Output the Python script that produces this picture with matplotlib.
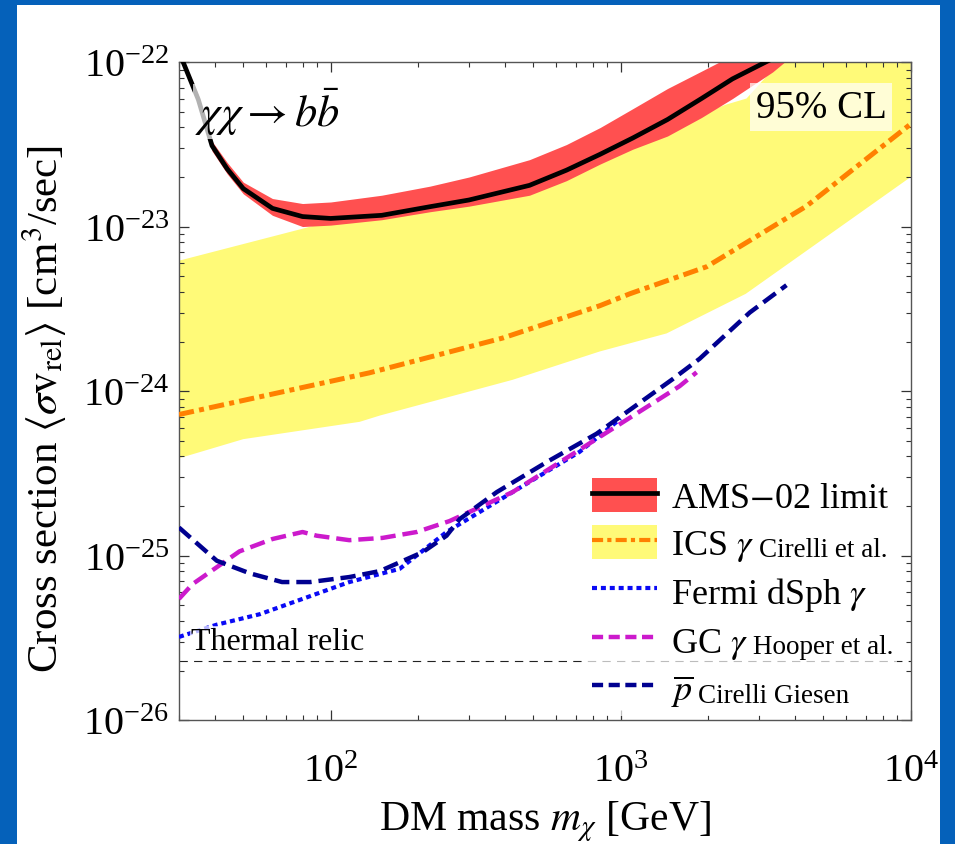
import numpy as np
import matplotlib.pyplot as plt
from matplotlib.patches import Patch, Rectangle
from matplotlib.lines import Line2D

plt.rcParams['font.family'] = ['Liberation Serif', 'DejaVu Serif']
plt.rcParams['mathtext.fontset'] = 'stix'
plt.rcParams['lines.scale_dashes'] = False

# AMS-02 antiproton limit (black) with its uncertainty band (red)
ams_mass = [31, 35, 39, 44, 50, 63, 80, 100, 150, 220, 300, 485, 650, 850, 1100, 1450, 1900,
            2430, 3340, 3800]
ams_limit = [1.00e-22, 5.9e-23, 3.1e-23, 2.24e-23, 1.70e-23, 1.29e-23, 1.15e-23, 1.12e-23,
             1.17e-23, 1.32e-23, 1.45e-23, 1.78e-23, 2.2e-23, 2.75e-23, 3.45e-23, 4.47e-23,
             6.0e-23, 7.9e-23, 1.05e-22, 1.20e-22]
ams_upper = [1.05e-22, 6.3e-23, 3.3e-23, 2.45e-23, 1.86e-23, 1.48e-23, 1.38e-23, 1.41e-23,
             1.55e-23, 1.76e-23, 2.0e-23, 2.55e-23, 3.15e-23, 4.0e-23, 5.2e-23, 6.9e-23,
             8.8e-23, 1.1e-22, 1.6e-22, 1.9e-22]
ams_lower = [9.5e-23, 5.6e-23, 2.88e-23, 2.09e-23, 1.58e-23, 1.17e-23, 1.00e-23, 1.02e-23,
             1.10e-23, 1.23e-23, 1.33e-23, 1.55e-23, 1.9e-23, 2.4e-23, 2.95e-23, 3.55e-23,
             4.6e-23, 6.0e-23, 8.7e-23, 1.05e-22]

# ICS gamma band edges and central line (Cirelli et al.)
ics_low_mass = [30, 50, 126, 148, 424, 847, 1440, 2700, 10000]
ics_low = [3.9e-25, 5.1e-25, 6.5e-25, 7.1e-25, 1.17e-24, 1.74e-24, 2.24e-24, 3.9e-24, 2.0e-23]
ics_up_mass = [30, 80, 150, 485, 850, 1450, 2300, 2716, 3530, 10000]
ics_up = [6.2e-24, 9.7e-24, 1.3e-23, 1.8e-23, 3.0e-23, 4.0e-23, 5.5e-23, 6.0e-23, 1.0e-22, 1.5e-22]
ics_mass = [30, 136, 392, 847, 1075, 1980, 4370, 10000]
ics_line = [7.2e-25, 1.29e-24, 2.1e-24, 3.3e-24, 3.9e-24, 5.7e-24, 1.33e-23, 4.2e-23]

# Fermi dwarf spheroidal limit
fermi_mass = [30, 40.5, 57, 80, 116, 173, 251, 424, 722, 938, 1000]
fermi_sv = [3.2e-26, 3.8e-26, 4.4e-26, 5.45e-26, 6.9e-26, 8.3e-26, 1.39e-25, 2.43e-25,
            4.27e-25, 6.2e-25, 6.8e-25]

# Galactic centre excess region (Hooper et al.)
gc_mass = [30, 33.4, 48.5, 63, 80, 89.5, 116, 151, 198, 257, 424, 722, 938, 1596, 1828]
gc_sv = [5.45e-26, 6.7e-26, 1.06e-25, 1.26e-25, 1.39e-25, 1.32e-25, 1.24e-25, 1.28e-25,
         1.39e-25, 1.62e-25, 2.43e-25, 4.4e-25, 5.9e-25, 1.07e-24, 1.30e-24]

# antiproton limit (Cirelli, Giesen)
pbar_mass = [30, 40.5, 52.6, 68, 85, 116, 148, 208, 251, 279, 374, 556, 826, 1510, 1871, 2786, 3730]
pbar_sv = [1.48e-25, 9.3e-26, 7.8e-26, 6.9e-26, 6.9e-26, 7.4e-26, 8.05e-26, 1.05e-25, 1.32e-25,
           1.67e-25, 2.43e-25, 3.7e-25, 5.5e-25, 1.18e-24, 1.57e-24, 3.0e-24, 4.4e-24]

thermal_relic = 2.3e-26

red = '#FF5050'
yellow = '#FFFA78'
orange = '#FF8000'
blue = '#0A0AF5'
magenta = '#CC1ACC'
navy = '#000090'

fig = plt.figure(figsize=(9.55, 8.45), dpi=100, facecolor='#0561BA')
fig.patches.append(Rectangle((17 / 955, 0), 923 / 955, 1 - 6 / 845, transform=fig.transFigure,
                             facecolor='white', edgecolor='none', zorder=-5))

ax = fig.add_axes([0.1874, 0.1467, 0.7662, 0.7787])
ax.set_xscale('log')
ax.set_yscale('log')
ax.set_xlim(30, 1e4)
ax.set_ylim(1e-26, 1e-22)

ax.fill(np.concatenate([ics_low_mass, ics_up_mass[::-1]]),
        np.concatenate([ics_low, ics_up[::-1]]), color=yellow, lw=0, zorder=1)
ax.fill_between(ams_mass, ams_lower, ams_upper, color=red, lw=0, zorder=2)
ax.plot(ams_mass, ams_limit, color='black', lw=3.4, zorder=3)
ax.plot(ics_mass, ics_line, color=orange, lw=3.6, dashes=(11, 3.8, 3.6, 3.8), zorder=3)
ax.plot(fermi_mass, fermi_sv, color=blue, lw=3.0, dashes=(3.6, 2.8), zorder=4)
ax.plot(gc_mass, gc_sv, color=magenta, lw=3.2, dashes=(11, 5), zorder=4)
ax.plot(pbar_mass, pbar_sv, color=navy, lw=3.2, dashes=(11, 5), zorder=5)
ax.axhline(thermal_relic, color='#222222', lw=0.8, dashes=(6, 4.5), zorder=2)

ax.text(33, 2.7e-26, 'Thermal relic', fontsize=23, va='baseline', ha='left', zorder=6,
        bbox=dict(facecolor='white', alpha=0.7, edgecolor='none', pad=1))
ax.text(34, 5.0e-23, r'$\chi\chi\rightarrow b\bar{b}$', fontsize=32, va='center', ha='left', zorder=6,
        bbox=dict(facecolor='white', alpha=0.7, edgecolor='none', pad=1))
ax.text(2920, 5.3e-23, '95% CL', fontsize=28, va='center', ha='left', zorder=6,
        bbox=dict(facecolor='white', alpha=0.7, edgecolor='none', pad=4))

ax.tick_params(which='both', direction='in', top=True, right=True, color='#333333')
ax.tick_params(which='major', length=7.5, width=0.9, labelsize=29, pad=7)
ax.tick_params(which='minor', length=3.8, width=0.8)
ax.tick_params(axis='x', which='major', pad=24)
for s in ax.spines.values():
    s.set_color('#555555')
    s.set_linewidth(1.0)

ax.set_xlabel(r'DM mass $m_\chi$ [GeV]', fontsize=30)
ax.set_ylabel(r'Cross section $\langle\sigma\mathrm{v}_{\mathrm{rel}}\rangle$ [cm$^3$/sec]',
              fontsize=31)
ax.xaxis.set_label_coords(0.5, -0.12)
ax.yaxis.set_label_coords(-0.150, 0.474)

handles = [
    (Patch(facecolor=red, edgecolor='none'), Line2D([], [], color='black', lw=3.4)),
    (Patch(facecolor=yellow, edgecolor='none'), Line2D([], [], color=orange, lw=3.0, dashes=(8, 3, 3, 3))),
    Line2D([], [], color=blue, lw=3.0, dashes=(3.6, 2.8)),
    Line2D([], [], color=magenta, lw=3.2, dashes=(8, 4)),
    Line2D([], [], color=navy, lw=3.2, dashes=(8, 4)),
]
labels = ['AMS$-$02 limit', r'ICS $\gamma$', r'Fermi dSph $\gamma$', r'GC $\gamma$', r'$\overline{p}$']
leg = ax.legend(handles, labels, loc='lower right', bbox_to_anchor=(0.986, 0.0), fontsize=26,
                frameon=True, framealpha=0.7, facecolor='white', edgecolor='none', fancybox=False,
                handlelength=1.8, handleheight=1.05, labelspacing=0.28, handletextpad=0.4,
                borderpad=0.2, borderaxespad=0.1)
leg.set_zorder(7)

# smaller author notes after the legend labels
texts = leg.get_texts()
notes = {1: 'Cirelli et al.', 3: 'Hooper et al.', 4: 'Cirelli Giesen'}
for i, note in notes.items():
    ax.annotate(note, xy=(1, 0), xycoords=texts[i], xytext=(3, 1), textcoords='offset points',
                fontsize=19.5, va='bottom', ha='left', zorder=8)

fig.savefig('out.png', dpi=100, facecolor=fig.get_facecolor())
